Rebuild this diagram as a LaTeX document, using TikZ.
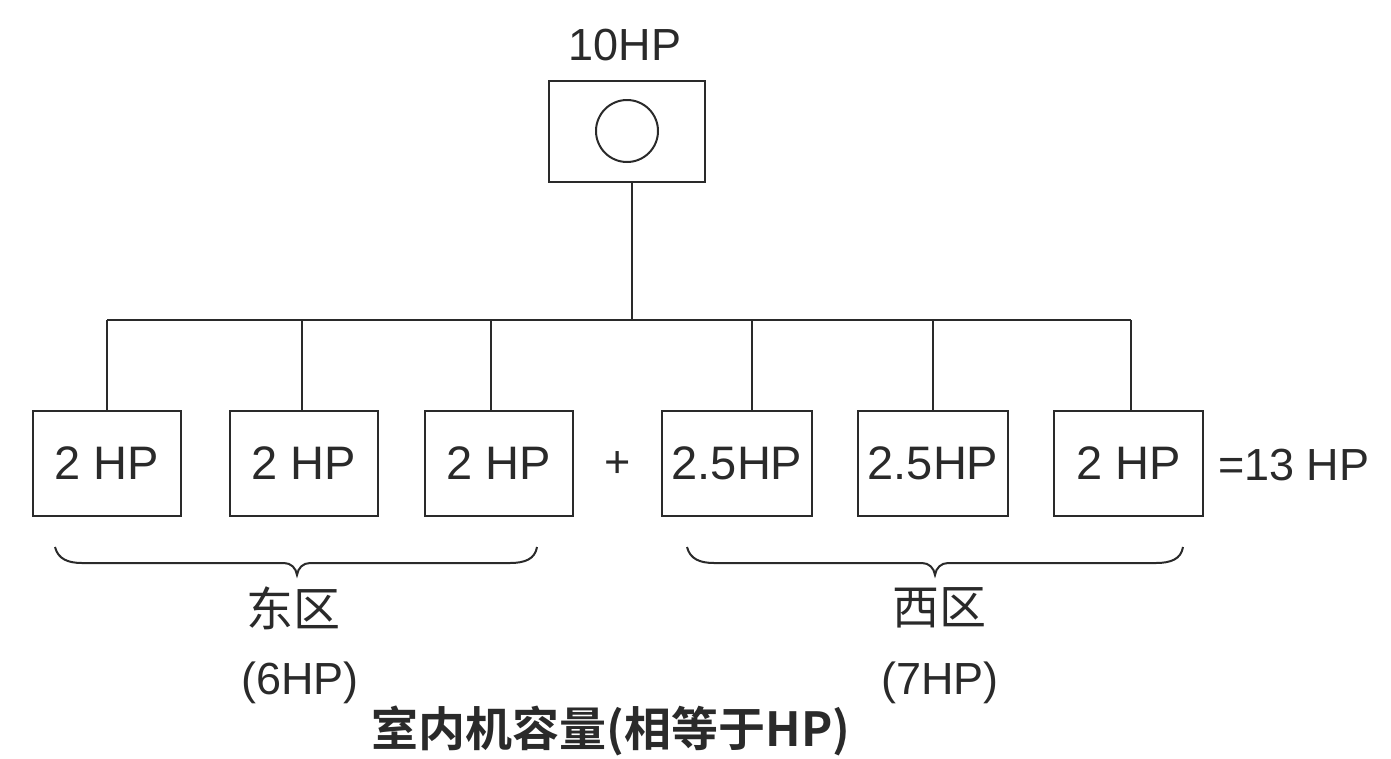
\documentclass[tikz,border=0pt]{standalone}
\usepackage{fontspec}
\setmainfont{Liberation Sans}
\newfontfamily\cjk{Noto Sans CJK SC}
\newfontfamily\cjkbold{Noto Sans CJK SC Bold}
\definecolor{ink}{HTML}{2A2A2A}
\begin{document}
\begin{tikzpicture}[x=1pt,y=-1pt,
  line width=2pt, draw=ink,
  unit/.style={draw=ink, line width=2.4pt, minimum width=148pt, minimum height=105pt, inner sep=0pt, text=ink, font=\fontsize{47}{56}\selectfont},
  lbl/.style={text=ink, inner sep=0pt, font=\fontsize{45}{54}\selectfont},
  zlbl/.style={text=ink, inner sep=0pt, font=\cjk\fontsize{47}{56}\selectfont},
  brace/.style={draw=ink, line width=2pt}]
\useasboundingbox (0,0) rectangle (1391,758);
% outdoor unit
\node[lbl] (top) at (625,45) {10HP};
\node[draw=ink, line width=2.4pt, minimum width=156pt, minimum height=101pt, inner sep=0pt] (out) at (627,131.5) {};
\node[draw=ink, circle, line width=2pt, minimum size=62pt, inner sep=0pt] (circ) at (627,131) {};
% indoor units
\node[unit] (b1) at (107,463.5) {2 HP};
\node[unit] (b2) at (304,463.5) {2 HP};
\node[unit] (b3) at (499,463.5) {2 HP};
\node[unit, minimum width=150pt] (b4) at (737,463.5) {2.5HP};
\node[unit, minimum width=150pt] (b5) at (933,463.5) {2.5HP};
\node[unit, minimum width=149pt] (b6) at (1128.5,463.5) {2 HP};
\node[lbl] (plus) at (618,465) {+};
\node[lbl, anchor=west] (sum) at (1217,465) {=13 HP};
% piping
\coordinate (main) at (632,320);
\coordinate (j1) at (107,320);
\coordinate (j2) at (302,320);
\coordinate (j3) at (491,320);
\coordinate (j4) at (752,320);
\coordinate (j5) at (933,320);
\coordinate (j6) at (1131,320);
\draw (out.south -| main) -- (main);
\draw (j1) -- (j6);
\foreach \i in {1,...,6} \draw (j\i) -- (j\i |- b\i.north);
% braces
\coordinate (e1) at (297,575);
\coordinate (w1) at (935,575);
\draw[brace] (55,547) .. controls (58,559) and (68,563) .. (82,563) -- (284,563)
  .. controls (291,563) and (296,568) .. (e1) .. controls (298,568) and (303,563) .. (310,563)
  -- (510,563) .. controls (525,563) and (535,559) .. (537,547);
\draw[brace] (687,547) .. controls (690,559) and (700,563) .. (714,563) -- (922,563)
  .. controls (929,563) and (934,568) .. (w1) .. controls (936,568) and (941,563) .. (948,563)
  -- (1156,563) .. controls (1171,563) and (1181,559) .. (1183,547);
% zone labels
\node[zlbl] (east) at (293,608) {东区};
\node[lbl] (east2) at (300,683) {(6HP)};
\node[zlbl] (west) at (939,608) {西区};
\node[lbl] (west2) at (940,683) {(7HP)};
\node[text=ink, inner sep=0pt, font=\cjkbold\fontsize{47}{56}\selectfont] (cap) at (611,731) {室内机容量(相等于HP)};
\end{tikzpicture}
\end{document}
